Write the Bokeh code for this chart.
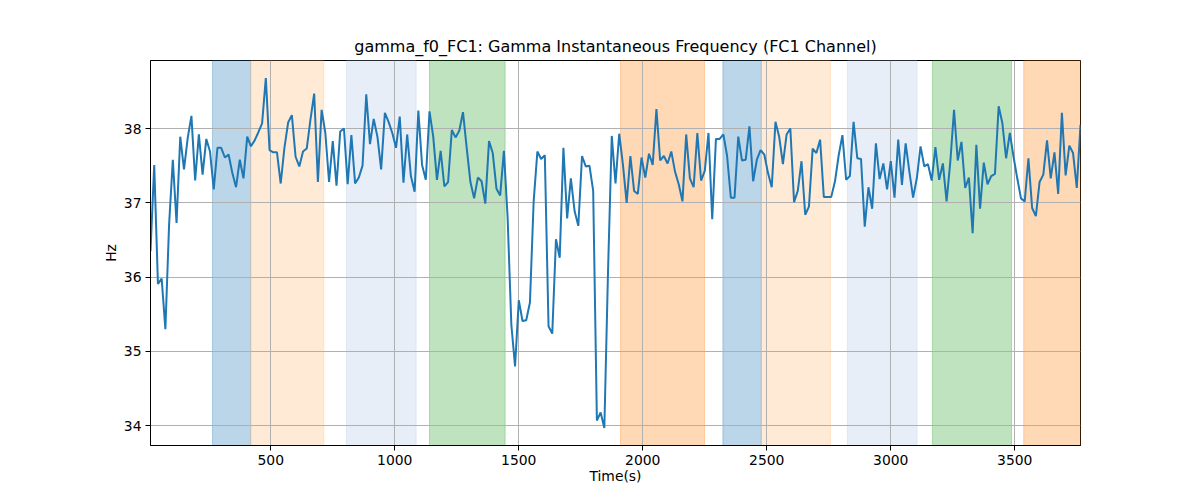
from bokeh.plotting import figure
from bokeh.models import BoxAnnotation, FixedTicker, Range1d
from bokeh.embed import file_html
from bokeh.resources import INLINE

# ---------------- data ----------------
freq_part1 = [36.35, 37.51, 35.91, 35.98, 35.30, 36.71, 37.58, 36.73, 37.89, 37.45,
              37.87, 38.17, 37.30, 37.92, 37.38, 37.86, 37.69, 37.18, 37.74, 37.74,
              37.61, 37.65, 37.40, 37.21, 37.58, 37.33, 37.89, 37.76, 37.84, 37.95,
              38.07, 38.68, 37.71, 37.68, 37.68, 37.26, 37.74, 38.08, 38.18, 37.62,
              37.49, 37.69, 37.73, 38.12, 38.47, 37.28, 38.25, 37.94, 37.28, 37.83,
              37.23, 37.96, 38.00, 37.25, 37.91, 37.26, 37.34, 37.50, 38.46, 37.79,
              38.13, 37.89, 37.45]
freq_part2 = [38.21, 38.09, 37.94, 37.74, 38.16, 37.27, 37.92, 37.36, 37.15, 38.24,
              37.51, 37.31, 38.23, 37.89, 37.31, 37.70, 37.22, 37.28, 37.98, 37.88,
              37.97, 38.22, 37.74, 37.28, 37.06, 37.34, 37.29, 36.99, 37.83, 37.67,
              37.19, 37.10, 37.70, 36.80, 35.36, 34.80, 35.69, 35.41, 35.42, 35.66,
              37.02, 37.69, 37.59, 37.64, 35.34, 35.24, 36.51, 36.26, 37.74, 36.79,
              37.33, 36.89, 36.69, 37.63, 37.49, 37.50, 37.16, 34.07, 34.18, 33.97,
              36.10]
freq_part3 = [37.90, 37.26, 37.93, 37.51, 37.00, 37.63, 37.16, 37.12, 37.61, 37.34,
              37.66, 37.51, 38.26, 37.57, 37.63, 37.53, 37.69, 37.42, 37.25, 37.02,
              37.92, 37.33, 37.21, 37.94, 37.30, 37.43, 37.94, 36.78, 37.86, 37.86,
              37.92, 37.63, 37.07, 37.07, 37.89, 37.57, 37.58, 38.03, 37.29, 37.58,
              37.71, 37.65, 37.40, 37.21, 38.09, 37.89, 37.52, 37.92, 38.00, 37.01,
              37.16, 37.56, 36.84, 36.95, 37.73, 37.67, 37.85, 37.08, 37.08, 37.08,
              37.29, 37.64]
freq_part4 = [37.91, 37.31, 37.36, 38.09, 37.60, 37.59, 36.68, 37.21, 36.92, 37.80,
              37.32, 37.53, 37.18, 37.56, 37.07, 37.85, 37.24, 37.80, 37.42, 37.07,
              37.33, 37.76, 37.49, 37.52, 37.30, 37.75, 37.31, 37.53, 37.02, 37.55,
              38.25, 37.57, 37.82, 37.20, 37.34, 36.59, 37.78, 36.92, 37.54, 37.25,
              37.36, 37.39, 38.30, 38.07, 37.60, 37.94, 37.62, 37.33, 37.06, 37.02,
              37.60, 36.93, 36.82, 37.28, 37.38, 37.84, 37.33, 37.68, 37.12, 38.21,
              37.37, 37.77, 37.67, 37.20, 38.05]
freq_hz = freq_part1 + freq_part2 + freq_part3 + freq_part4
time_step = 15
time_s = [time_step * (i + 1) for i in range(len(freq_hz))]

band_start = [265, 419, 805, 1140, 1910, 2323, 2478, 2825, 3168, 3536]
band_end = [419, 714, 1086, 1445, 2249, 2478, 2757, 3106, 3487, 3765]
band_color = ["#1f77b4", "#ffbb78", "#aec7e8", "#2ca02c", "#ff7f0e",
              "#1f77b4", "#ffbb78", "#aec7e8", "#2ca02c", "#ff7f0e"]

x_ticks = [500, 1000, 1500, 2000, 2500, 3000, 3500]
y_ticks = [34, 35, 36, 37, 38]

title_text = "gamma_f0_FC1: Gamma Instantaneous Frequency (FC1 Channel)"
x_label = "Time(s)"
y_label = "Hz"

# ---------------- plot ----------------
FONT = "DejaVu Sans"
p = figure(frame_width=930, frame_height=385,
           min_border_left=150, min_border_right=104, min_border_top=60,
           min_border_bottom=39, output_backend="svg", toolbar_location=None,
           title=title_text,
           x_range=Range1d(time_s[0], time_s[-1]),
           y_range=Range1d(33.735, 38.915))

p.title.align = "center"
p.title.text_font = FONT
p.title.text_font_size = "16px"
p.title.text_font_style = "normal"
p.title.text_color = "black"

for s, e, c in zip(band_start, band_end, band_color):
    box = BoxAnnotation(left=s, right=e, fill_color=c, fill_alpha=0.3,
                        line_color=c, line_alpha=0.3, line_width=1, level="image")
    p.add_layout(box)

p.line(time_s, freq_hz, line_color="#1f77b4", line_width=2)

p.xaxis.ticker = FixedTicker(ticks=x_ticks)
p.yaxis.ticker = FixedTicker(ticks=y_ticks)
p.xaxis.axis_label = x_label
p.yaxis.axis_label = y_label

for ax in (p.xaxis[0], p.yaxis[0]):
    ax.axis_label_text_font = FONT
    ax.axis_label_text_font_size = "13.9px"
    ax.axis_label_text_font_style = "normal"
    ax.axis_label_text_color = "black"
    ax.major_label_text_font = FONT
    ax.major_label_text_font_size = "13.9px"
    ax.major_label_text_color = "black"
    ax.axis_line_color = "black"
    ax.major_tick_line_color = "black"
    ax.major_tick_in = 0
    ax.major_tick_out = 5
    ax.minor_tick_line_color = None
    ax.major_label_standoff = 4

p.xaxis.axis_label_standoff = 0
p.yaxis.axis_label_standoff = 2
p.yaxis.major_label_orientation = "horizontal"

p.xgrid.grid_line_color = "#b0b0b0"
p.ygrid.grid_line_color = "#b0b0b0"
p.xgrid.grid_line_width = 1
p.ygrid.grid_line_width = 1

p.outline_line_color = "black"
p.outline_line_width = 1
p.background_fill_color = "white"
p.border_fill_color = "white"

open("out.html", "w").write(file_html(p, INLINE))
